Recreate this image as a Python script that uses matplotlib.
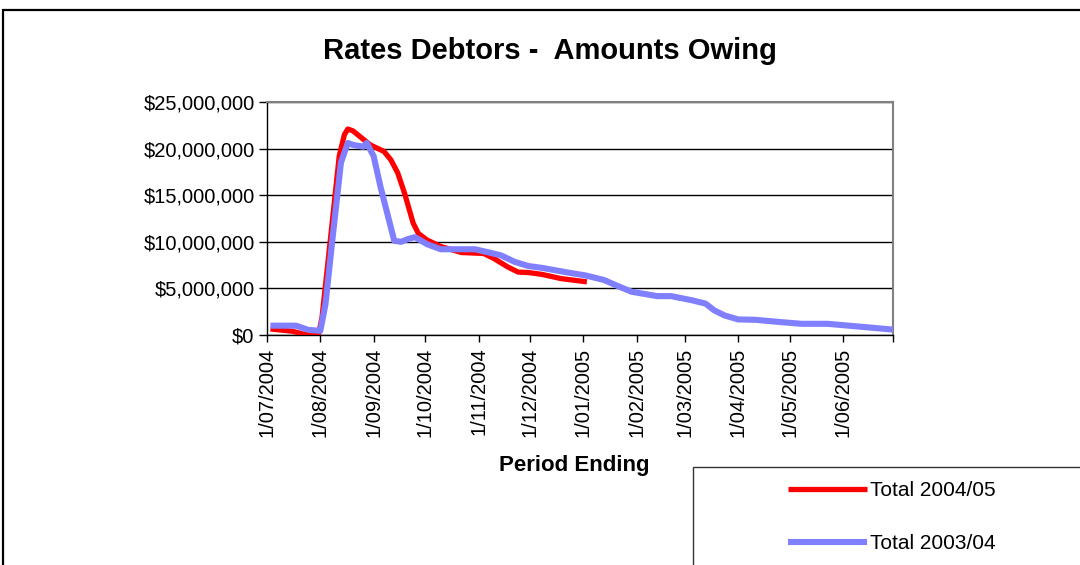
import matplotlib
matplotlib.use("Agg")
import matplotlib.pyplot as plt
from matplotlib.patches import Rectangle
from matplotlib.ticker import FuncFormatter
import numpy as np

plt.rcParams['font.family'] = ['Liberation Sans', 'DejaVu Sans']

# ---- data (values in $ millions) ----
red_dates = ["2004-07-03", "2004-07-16", "2004-07-22", "2004-07-31", "2004-08-02",
             "2004-08-07", "2004-08-12", "2004-08-15", "2004-08-17", "2004-08-20",
             "2004-08-24", "2004-08-30", "2004-09-07", "2004-09-11", "2004-09-15",
             "2004-09-19", "2004-09-24", "2004-09-27", "2004-10-02", "2004-10-10",
             "2004-10-22", "2004-11-04", "2004-11-10", "2004-11-18", "2004-11-24",
             "2004-11-30", "2004-12-08", "2004-12-19", "2005-01-03"]
red_values = [0.65, 0.40, 0.10, 0.10, 1.9,
              10.5, 19.2, 21.5, 22.1, 21.9,
              21.3, 20.4, 19.7, 18.8, 17.4,
              15.2, 12.0, 10.9, 10.2, 9.5,
              8.85, 8.75, 8.2, 7.3, 6.75,
              6.7, 6.5, 6.05, 5.7]

blue_dates = ["2004-07-03", "2004-07-18", "2004-07-25", "2004-08-01", "2004-08-04",
              "2004-08-08", "2004-08-13", "2004-08-17", "2004-08-20", "2004-08-26",
              "2004-08-28", "2004-09-01", "2004-09-05", "2004-09-09", "2004-09-13",
              "2004-09-17", "2004-09-21", "2004-09-25", "2004-10-02", "2004-10-10",
              "2004-10-30", "2004-11-06", "2004-11-14", "2004-11-22", "2004-11-30",
              "2004-12-08", "2004-12-23", "2005-01-02", "2005-01-13", "2005-01-21",
              "2005-01-29", "2005-02-13", "2005-02-21", "2005-03-05", "2005-03-13",
              "2005-03-18", "2005-03-24", "2005-04-01", "2005-04-11", "2005-04-26",
              "2005-05-08", "2005-05-23", "2005-06-08", "2005-06-30"]
blue_values = [1.0, 1.0, 0.55, 0.45, 3.3,
               10.2, 18.5, 20.6, 20.4, 20.2,
               20.6, 19.2, 15.9, 13.0, 10.1,
               10.0, 10.3, 10.5, 9.75, 9.2,
               9.2, 8.9, 8.55, 7.85, 7.4,
               7.2, 6.7, 6.4, 5.9, 5.25,
               4.64, 4.17, 4.17, 3.73, 3.37,
               2.65, 2.1, 1.67, 1.63, 1.38,
               1.2, 1.2, 0.94, 0.58]

tick_dates = ["2004-07-01", "2004-08-01", "2004-09-01", "2004-10-01", "2004-11-01",
              "2004-12-01", "2005-01-01", "2005-02-01", "2005-03-01", "2005-04-01",
              "2005-05-01", "2005-06-01"]
tick_labels = ["1/07/2004", "1/08/2004", "1/09/2004", "1/10/2004", "1/11/2004",
               "1/12/2004", "1/01/2005", "1/02/2005", "1/03/2005", "1/04/2005",
               "1/05/2005", "1/06/2005"]
x_end = "2005-06-30"
y_ticks = [0, 5, 10, 15, 20, 25]

series_names = ["Total 2004/05", "Total 2003/04"]

# ---- figure ----
W, H = 1080, 565
fig = plt.figure(figsize=(W / 100, H / 100), dpi=100)

def fx(px):
    return px / W

def fy(py):
    return 1 - py / H

# outer chart border
fig.add_artist(Rectangle((fx(3), -0.2), 1.5, fy(10) + 0.2, transform=fig.transFigure,
                         fill=False, edgecolor='black', lw=1.6, clip_on=False))

ax = fig.add_axes([fx(267), fy(335), fx(893) - fx(267), fy(102) - fy(335)])

rd = np.array(red_dates, dtype='datetime64[D]')
bd = np.array(blue_dates, dtype='datetime64[D]')
l1, = ax.plot(rd, np.array(red_values) * 1e6, color='#FF0000', lw=3.8,
              solid_joinstyle='round', solid_capstyle='butt', zorder=3)
l2, = ax.plot(bd, np.array(blue_values) * 1e6, color='#8080FF', lw=4.4,
              solid_joinstyle='round', solid_capstyle='butt', zorder=4)

ax.set_xlim(np.datetime64("2004-07-01"), np.datetime64(x_end))
ax.set_ylim(0, 25e6)

td = list(np.array(tick_dates, dtype='datetime64[D]')) + [np.datetime64(x_end)]
ax.set_xticks(td)
ax.set_xticklabels(tick_labels + [""], rotation=90, fontsize=14.5)
ax.set_yticks([v * 1e6 for v in y_ticks])
ax.yaxis.set_major_formatter(FuncFormatter(lambda v, p: "${:,.0f}".format(v)))
ax.tick_params(axis='y', labelsize=14.5, length=6, width=1, direction='out', pad=3)
ax.tick_params(axis='x', length=5, width=1, direction='out', pad=4)

ax.grid(axis='y', color='black', lw=1)
ax.set_axisbelow(True)
for s in ['top', 'right']:
    ax.spines[s].set_color('#808080')
    ax.spines[s].set_linewidth(1.5)
for s in ['left', 'bottom']:
    ax.spines[s].set_color('black')
    ax.spines[s].set_linewidth(1)

fig.text(fx(550), fy(51), "Rates Debtors -  Amounts Owing", ha='center', va='center',
         fontsize=21, fontweight='bold')
fig.text(fx(574), fy(466), "Period Ending", ha='center', va='center',
         fontsize=16, fontweight='bold')

# legend box
fig.add_artist(Rectangle((fx(693), -0.2), 1.0, fy(466.5) + 0.2, transform=fig.transFigure,
                         fill=False, edgecolor='#333333', lw=1.0, clip_on=False))
leg = fig.legend([l1, l2], series_names, loc='upper left',
                 bbox_to_anchor=(fx(788), fy(481)), frameon=False, fontsize=15,
                 borderpad=0, borderaxespad=0, handlelength=3.8, handletextpad=0.15,
                 labelspacing=1.65)

fig.savefig("out.png", dpi=100)
